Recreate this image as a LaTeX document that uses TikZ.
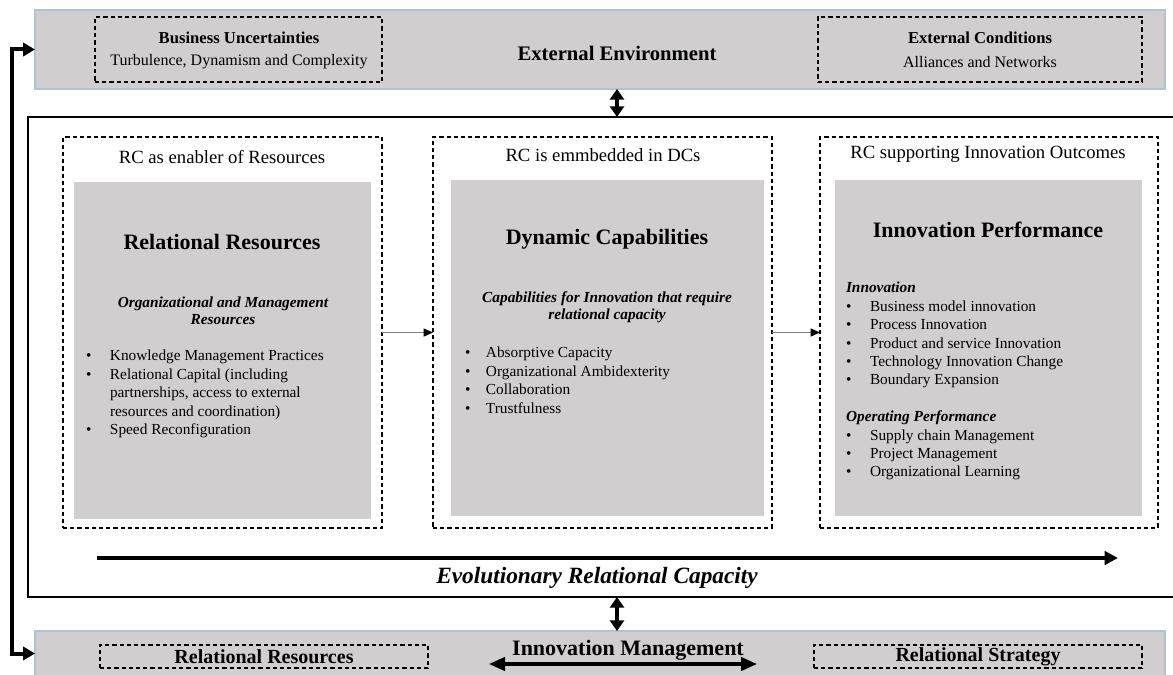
\documentclass[tikz,border=0pt]{standalone}
\usepackage{fontspec}
\setmainfont{Liberation Serif}
\usetikzlibrary{arrows.meta}
\definecolor{barfill}{HTML}{D0CECE}
\definecolor{barline}{HTML}{B4C0D4}
\definecolor{thinarrow}{HTML}{7F7F7F}
\newcommand\rectnode[6]{\node[#6,minimum width={((#4)-(#2))*0.75pt},minimum height={((#5)-(#3))*0.75pt}] (#1) at ({((#2)+(#4))/2},{((#3)+(#5))/2}) {};}
\begin{document}
\begin{tikzpicture}[x=0.75pt,y=-0.75pt,
  every node/.style={inner sep=0pt,outer sep=0pt},
  bar/.style={draw=barline,line width=0.9pt,fill=barfill},
  dbox/.style={draw=black,line width=0.9pt,dash pattern=on 3.2pt off 2.2pt},
  graybox/.style={fill=barfill},
  frame/.style={draw=black,line width=1.1pt},
  bodyf/.style={font=\fontsize{11.5}{13.8}\selectfont},
  headf/.style={font=\fontsize{14}{16}\selectfont},
  titlef/.style={font=\bfseries\fontsize{16.5}{19}\selectfont},
  subf/.style={font=\bfseries\itshape\fontsize{11.5}{13}\selectfont,align=center},
  dblarrow/.style={line width=2.4pt,{Triangle[length=8pt,width=10.5pt]}-{Triangle[length=8pt,width=10.5pt]}},
  thinarr/.style={draw=thinarrow,line width=0.8pt,-{Triangle[length=7pt,width=6pt,fill=black,color=black]}},
  bigarr/.style={line width=3pt,-{Triangle[length=10pt,width=10pt]}},
  fbarr/.style={line width=3pt,{Triangle[length=9pt,width=10pt]}-{Triangle[length=9pt,width=10pt]}},
  imarr/.style={line width=2.4pt,{Triangle[length=12pt,width=10pt]}-{Triangle[length=12pt,width=10pt]}}
]
\useasboundingbox (0,0) rectangle (1173,674);
% bars and frame
\rectnode{topbar}{35}{10}{1165}{89}{bar}
\rectnode{botbar}{35}{631}{1165}{676}{bar}
\rectnode{frame}{28}{117}{1190}{597}{frame}
% top bar content
\rectnode{bubox}{95}{17}{382}{82}{dbox}
\node[font=\bfseries\fontsize{12.5}{15}\selectfont] (butitle) at (239,38) {Business Uncertainties};
\node[font=\fontsize{12}{14}\selectfont] (butext) at (239,62) {Turbulence, Dynamism and Complexity};
\node[font=\bfseries\fontsize{15.5}{18}\selectfont] (ee) at (617,53) {External Environment};
\rectnode{ecbox}{818}{17}{1142}{82}{dbox}
\node[font=\bfseries\fontsize{12.5}{15}\selectfont] (ectitle) at (980,38) {External Conditions};
\node[font=\fontsize{12}{14}\selectfont] (ectext) at (980,62) {Alliances and Networks};
% dashed stage boxes
\rectnode{ldash}{63}{137}{382}{528}{dbox}
\rectnode{mdash}{433}{137}{772}{528}{dbox}
\rectnode{rdash}{820}{137}{1158}{528}{dbox}
\rectnode{lgray}{74}{182}{371}{519}{graybox}
\rectnode{mgray}{451}{180}{764}{516}{graybox}
\rectnode{rgray}{835}{180}{1142}{516}{graybox}
\node[headf] (lhead) at (222,157) {RC as enabler of Resources};
\node[headf] (mhead) at (603,155) {RC is emmbedded in DCs};
\node[headf] (rhead) at (988,154) {RC supporting Innovation Outcomes};
% left content
\node[titlef] (ltitle) at (222,242) {Relational Resources};
\node[subf] (lsub) at (223,311) {Organizational and Management\\Resources};
\node[bodyf,anchor=north west] (llist) at (86,348) {\begin{tabular}[t]{@{}p{18pt}@{}l@{}}
\textbullet & Knowledge Management Practices\\
\textbullet & Relational Capital (including\\
 & partnerships, access to external\\
 & resources and coordination)\\
\textbullet & Speed Reconfiguration
\end{tabular}};
% middle content
\node[titlef] (mtitle) at (607,239) {Dynamic Capabilities};
\node[subf] (msub) at (607,307) {Capabilities for Innovation that require\\relational capacity};
\node[bodyf,anchor=north west] (mlist) at (465,345) {\begin{tabular}[t]{@{}p{15.75pt}@{}l@{}}
\textbullet & Absorptive Capacity\\
\textbullet & Organizational Ambidexterity\\
\textbullet & Collaboration\\
\textbullet & Trustfulness
\end{tabular}};
% right content
\node[titlef] (rtitle) at (988,230) {Innovation Performance};
\node[bodyf,anchor=north west] (rlist) at (846,280) {\begin{tabular}[t]{@{}p{18pt}@{}l@{}}
\multicolumn{2}{@{}l@{}}{\textbf{\textit{Innovation}}}\\
\textbullet & Business model innovation\\
\textbullet & Process Innovation\\
\textbullet & Product and service Innovation\\
\textbullet & Technology Innovation Change\\
\textbullet & Boundary Expansion\\[13.8pt]
\multicolumn{2}{@{}l@{}}{\textbf{\textit{Operating Performance}}}\\
\textbullet & Supply chain Management\\
\textbullet & Project Management\\
\textbullet & Organizational Learning
\end{tabular}};
% stage arrows
\draw[thinarr] (ldash.east) -- (mdash.west);
\draw[thinarr] (mdash.east) -- (rdash.west);
% evolutionary arrow
\coordinate (evs) at (97,558);
\coordinate (eve) at (1118,558);
\draw[bigarr] (evs) -- (eve);
\node[font=\bfseries\itshape\fontsize{17.5}{20}\selectfont] (evtext) at (597,578) {Evolutionary Relational Capacity};
% vertical double arrows
\draw[dblarrow] (ee |- topbar.south) -- (ee |- frame.north);
\draw[dblarrow] (ee |- frame.south) -- (ee |- botbar.north);
% bottom bar content
\rectnode{rrbox}{100}{645}{428}{668}{dbox}
\node[font=\bfseries\fontsize{15}{17}\selectfont] (rrtext) at (264,657) {Relational Resources};
\node[font=\bfseries\fontsize{16.5}{19}\selectfont] (imtext) at (628,650) {Innovation Management};
\coordinate (ims) at (489,664);
\coordinate (ime) at (757,664);
\draw[imarr] (ims) -- (ime);
\rectnode{rsbox}{814}{645}{1142}{668}{dbox}
\node[font=\bfseries\fontsize{15}{17}\selectfont] (rstext) at (978,657) {Relational Strategy};
% feedback arrow
\draw[fbarr] (topbar.west) -- ++(-23,0) |- (botbar.west);
\end{tikzpicture}
\end{document}
